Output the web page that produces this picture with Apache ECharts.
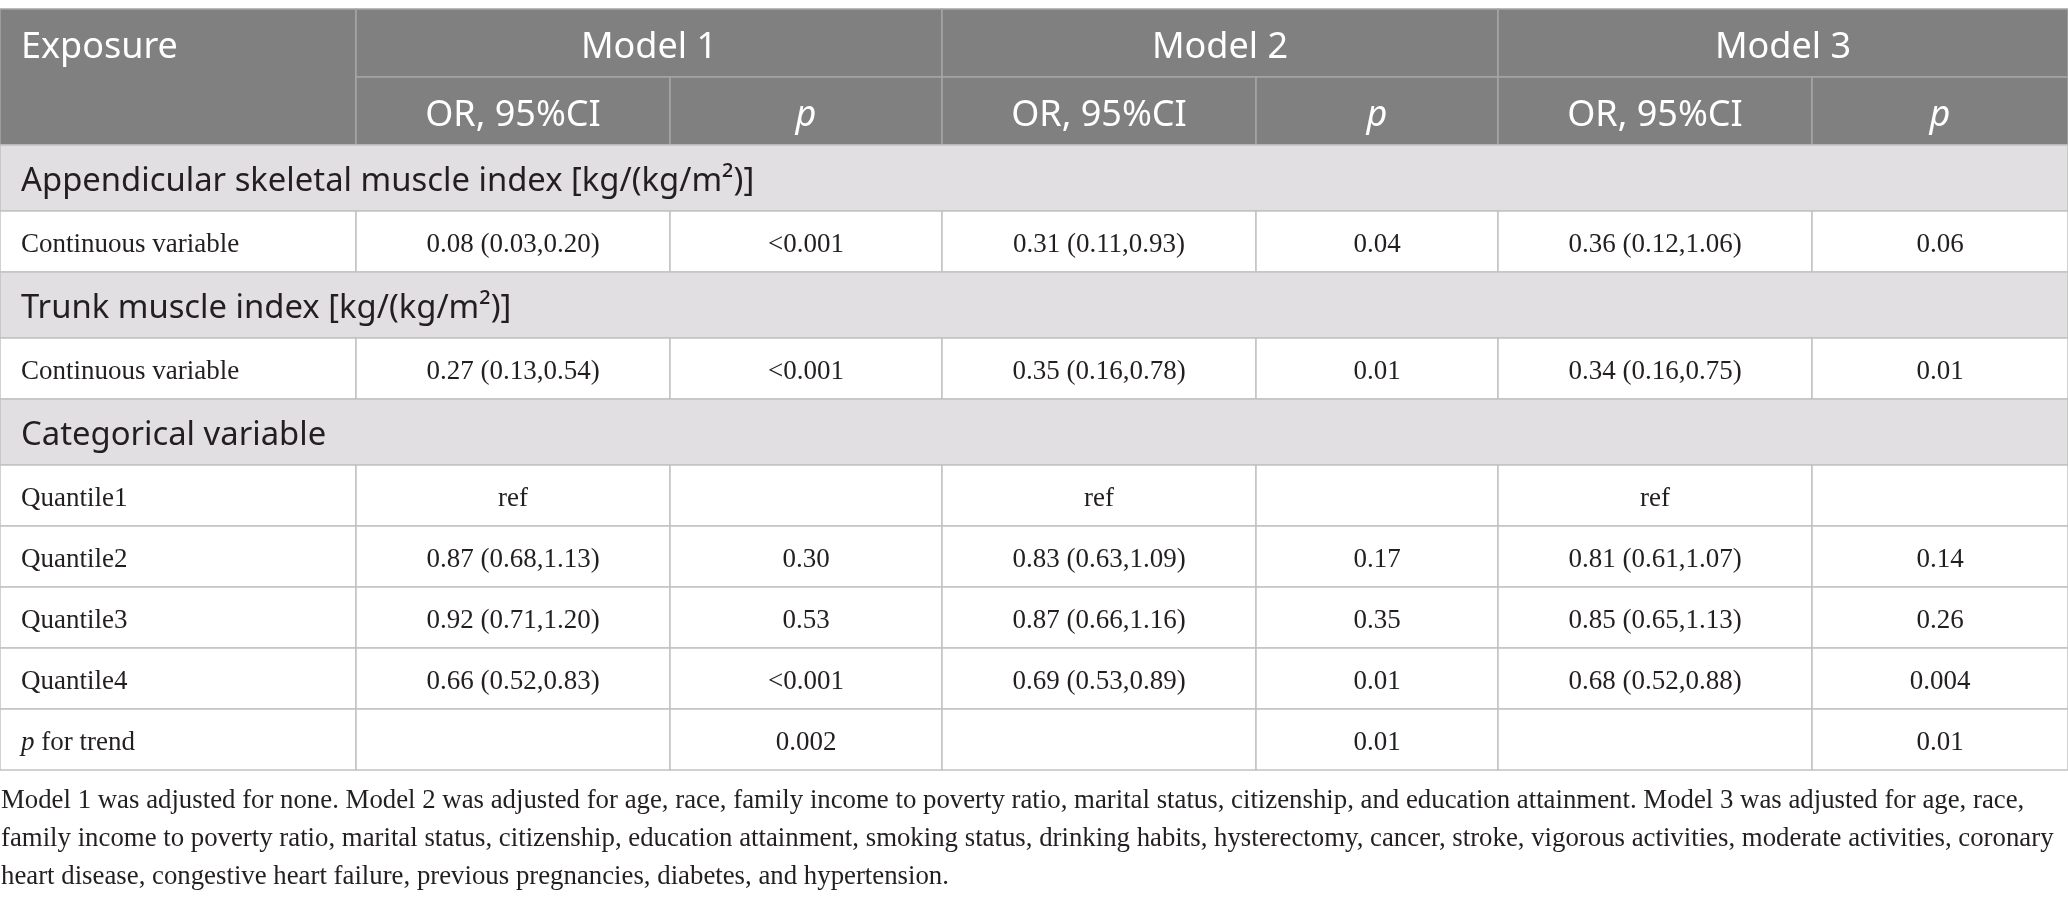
<!DOCTYPE html>
<html><head><meta charset="utf-8">
<script src="https://cdn.jsdelivr.net/npm/echarts@6.0.0/dist/echarts.min.js"></script>
<style>html,body{margin:0;padding:0;background:#fff}#c{width:2068px;height:902px}</style>
</head><body><div id="c"></div>
<script>
// ---- table content ----
const EXPOSURE_LABEL = 'Exposure';
const MODELS = ['Model 1', 'Model 2', 'Model 3'];
const SUB_HEADERS = ['OR, 95%CI', '{i|p}'];
const SECTIONS = [
  'Appendicular skeletal muscle index [kg/(kg/m²)]',
  'Trunk muscle index [kg/(kg/m²)]',
  'Categorical variable'
];
const ROW_LABELS = ['Continuous variable', 'Continuous variable', 'Quantile1', 'Quantile2', 'Quantile3', 'Quantile4', '{i|p} for trend'];
const ROW_SECTION = [0, 1, 2, 2, 2, 2, 2];
const M1_OR = ['0.08 (0.03,0.20)', '0.27 (0.13,0.54)', 'ref', '0.87 (0.68,1.13)', '0.92 (0.71,1.20)', '0.66 (0.52,0.83)', ''];
const M1_P  = ['<0.001', '<0.001', '', '0.30', '0.53', '<0.001', '0.002'];
const M2_OR = ['0.31 (0.11,0.93)', '0.35 (0.16,0.78)', 'ref', '0.83 (0.63,1.09)', '0.87 (0.66,1.16)', '0.69 (0.53,0.89)', ''];
const M2_P  = ['0.04', '0.01', '', '0.17', '0.35', '0.01', '0.01'];
const M3_OR = ['0.36 (0.12,1.06)', '0.34 (0.16,0.75)', 'ref', '0.81 (0.61,1.07)', '0.85 (0.65,1.13)', '0.68 (0.52,0.88)', ''];
const M3_P  = ['0.06', '0.01', '', '0.14', '0.26', '0.004', '0.01'];
const FOOTNOTE_LINES = [
  'Model 1 was adjusted for none. Model 2 was adjusted for age, race, family income to poverty ratio, marital status, citizenship, and education attainment. Model 3 was adjusted for age, race,',
  'family income to poverty ratio, marital status, citizenship, education attainment, smoking status, drinking habits, hysterectomy, cancer, stroke, vigorous activities, moderate activities, coronary',
  'heart disease, congestive heart failure, previous pregnancies, diabetes, and hypertension.'
];

// ---- layout (kept apart from the data) ----
const COL_W = [356, 314, 272, 314, 242, 314, 256];
const HEAD_H = 68, SEC_H = 66, ROW_H = 61;
const SANS = 'Noto Sans', SERIF = 'Liberation Serif';

const colEdges = [0];
COL_W.forEach(w => colEdges.push(colEdges[colEdges.length - 1] + w));
const cells = [];
let cy = 0;
function add(c0, c1, h, text, kind, align, textH) {
  cells.push({ value: [colEdges[c0], colEdges[c1], cy, cy + h, textH == null ? h : textH], text: text, kind: kind, align: align });
}
// header
add(0, 1, HEAD_H * 2, EXPOSURE_LABEL, 'head', 'left', HEAD_H);
MODELS.forEach((m, i) => add(1 + 2 * i, 3 + 2 * i, HEAD_H, m, 'head', 'center'));
cy += HEAD_H;
MODELS.forEach((m, i) => {
  add(1 + 2 * i, 2 + 2 * i, HEAD_H, SUB_HEADERS[0], 'head', 'center');
  add(2 + 2 * i, 3 + 2 * i, HEAD_H, SUB_HEADERS[1], 'head', 'center');
});
cy += HEAD_H;
const modelCols = [[M1_OR, M1_P], [M2_OR, M2_P], [M3_OR, M3_P]];
let lastSec = -1;
ROW_LABELS.forEach((lab, r) => {
  if (ROW_SECTION[r] !== lastSec) {
    lastSec = ROW_SECTION[r];
    add(0, 7, SEC_H, SECTIONS[lastSec], 'sec', 'left');
    cy += SEC_H;
  }
  add(0, 1, ROW_H, lab, 'body', 'left');
  modelCols.forEach((mc, i) => {
    add(1 + 2 * i, 2 + 2 * i, ROW_H, mc[0][r], 'body', 'center');
    add(2 + 2 * i, 3 + 2 * i, ROW_H, mc[1][r], 'body', 'center');
  });
  cy += ROW_H;
});
const TOTAL_H = cy;

const STYLES = {
  head: { fill: '#808080', stroke: '#a5a5a5', color: '#ffffff', font: SANS, size: 36, dy: 5 },
  sec:  { fill: '#e1dfe1', stroke: '#c2c2c2', color: '#231f20', font: SANS, size: 32.8, dy: 4 },
  body: { fill: '#ffffff', stroke: '#c2c2c2', color: '#231f20', font: SERIF, size: 27, dy: 3 }
};

const chart = echarts.init(document.getElementById('c'), null, { renderer: 'canvas' });
chart.setOption({
  animation: false,
  backgroundColor: '#ffffff',
  title: {
    text: FOOTNOTE_LINES.join('\n'),
    left: 1, top: 782, padding: 0,
    textStyle: { fontFamily: SERIF, fontSize: 26.8, fontWeight: 'normal', color: '#231f20', lineHeight: 38 }
  },
  grid: { left: 0, top: 9, width: 2068, height: 761 },
  xAxis: { type: 'value', min: 0, max: colEdges[colEdges.length - 1], show: false },
  yAxis: { type: 'value', min: 0, max: TOTAL_H, inverse: true, show: false },
  series: [{
    type: 'custom',
    coordinateSystem: 'cartesian2d',
    data: cells.map(c => c.value),
    encode: { x: [0, 1], y: [2, 3] },
    clip: false,
    renderItem: function (params, api) {
      const cell = cells[params.dataIndex];
      const st = STYLES[cell.kind];
      const p0 = api.coord([api.value(0), api.value(2)]);
      const p1 = api.coord([api.value(1), api.value(3)]);
      const pt = api.coord([api.value(0), api.value(2) + api.value(4)]);
      const w = p1[0] - p0[0], h = p1[1] - p0[1];
      const tx = cell.align === 'left' ? p0[0] + 21 : p0[0] + w / 2;
      const ty = (p0[1] + pt[1]) / 2 + st.dy;
      return {
        type: 'group',
        children: [
          { type: 'rect', shape: { x: p0[0], y: p0[1], width: w, height: h },
            style: { fill: st.fill, stroke: st.stroke, lineWidth: 1.5 } },
          { type: 'text', z2: 10,
            style: {
              text: cell.text, x: tx, y: ty,
              align: cell.align, verticalAlign: 'middle',
              fill: st.color, fontFamily: st.font, fontSize: st.size,
              rich: { i: { fontStyle: 'italic', fontFamily: st.font, fontSize: st.size, fill: st.color } }
            } }
        ]
      };
    }
  }]
});
</script></body></html>
